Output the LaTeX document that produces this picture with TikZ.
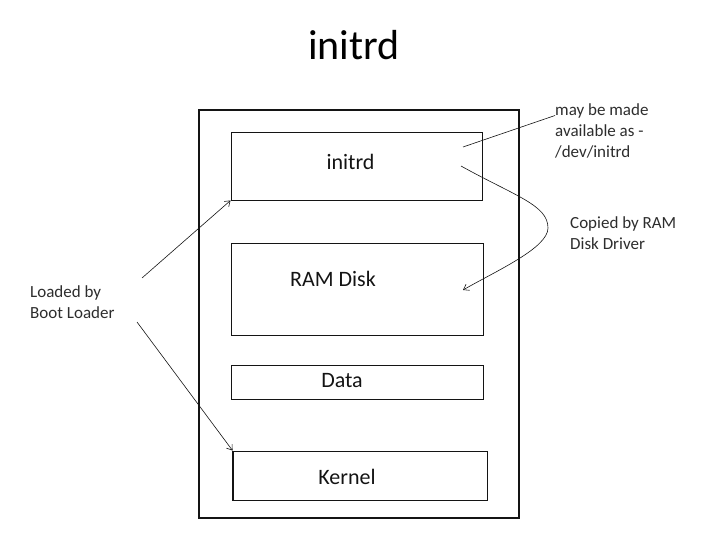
\documentclass[tikz,border=0pt]{standalone}
\usepackage{fontspec}
\setmainfont{Carlito}
\usepackage{tikz}
\usetikzlibrary{arrows.meta,calc}
\definecolor{inkblack}{RGB}{20,20,20}
\definecolor{notegray}{RGB}{45,45,45}
\tikzset{
  memblk/.style ={rectangle, draw=inkblack, line width=0.9pt, inner sep=0pt},
  blktxt/.style ={font=\fontsize{22}{26}\selectfont, text=inkblack},
  note/.style   ={align=left, anchor=north west, inner sep=0pt, text=notegray,
                  font=\fontsize{17}{21}\selectfont},
  ptr/.style    ={-{Straight Barb[length=5pt,width=7pt]}, line width=0.6pt, draw=inkblack},
  tie/.style    ={line width=0.6pt, draw=inkblack},
}
\begin{document}
\begin{tikzpicture}[x=1pt,y=-1pt]
\useasboundingbox (0,0) rectangle (720,540);
\node[font=\fontsize{42}{48}\selectfont, anchor=base] (title) at (354,60) {initrd};

% the memory image and its parts
\node[rectangle, draw=inkblack, line width=1.3pt, minimum width=320, minimum height=408] (mem) at (359,314) {};
\node[memblk, minimum width=251, minimum height=68,
      label={[name=inittxt, blktxt, xshift=-6pt, yshift=4pt]center:initrd}] (init) at (356.5,166) {};
\node[memblk, minimum width=252, minimum height=92,
      label={[name=ramtxt, blktxt, xshift=-24pt, yshift=10pt]center:RAM Disk}] (ram) at (357,289) {};
\node[memblk, minimum width=252, minimum height=34,
      label={[name=datatxt, blktxt, xshift=-15pt, yshift=1pt]center:Data}] (data) at (357,382) {};
\node[memblk, minimum width=254, minimum height=49,
      label={[name=kerneltxt, blktxt, xshift=-13pt, yshift=-1pt]center:Kernel}] (kernel) at (360,475.5) {};
\draw[line width=1.8pt, draw=inkblack] (kernel.north west) -- (kernel.south west) -- (kernel.south east);

% notes
\node[note] (may) at (555,103.5) {may be made\\available as -\\/dev/initrd};
\node[note] (copied) at (570,216) {Copied by RAM\\Disk Driver};
\node[note] (boot) at (30,285) {Loaded by\\Boot Loader};

\coordinate (inA) at (463,147);
\coordinate (inB) at (461,166);
\coordinate (ramhit) at (463,290);
\draw[tie] (inA) -- ([yshift=-12pt]may.north west);
\draw[ptr] (inB) .. controls (515,196) and (548,205) .. (548,228)
                 .. controls (548,248) and (496,271) .. (ramhit);
\draw[ptr] ([shift={(112pt,7pt)}]boot.north west) -- (init.south west);
\draw[ptr] ([shift={(107pt,-37pt)}]boot.north west) -- (kernel.north west);
\end{tikzpicture}
\end{document}
